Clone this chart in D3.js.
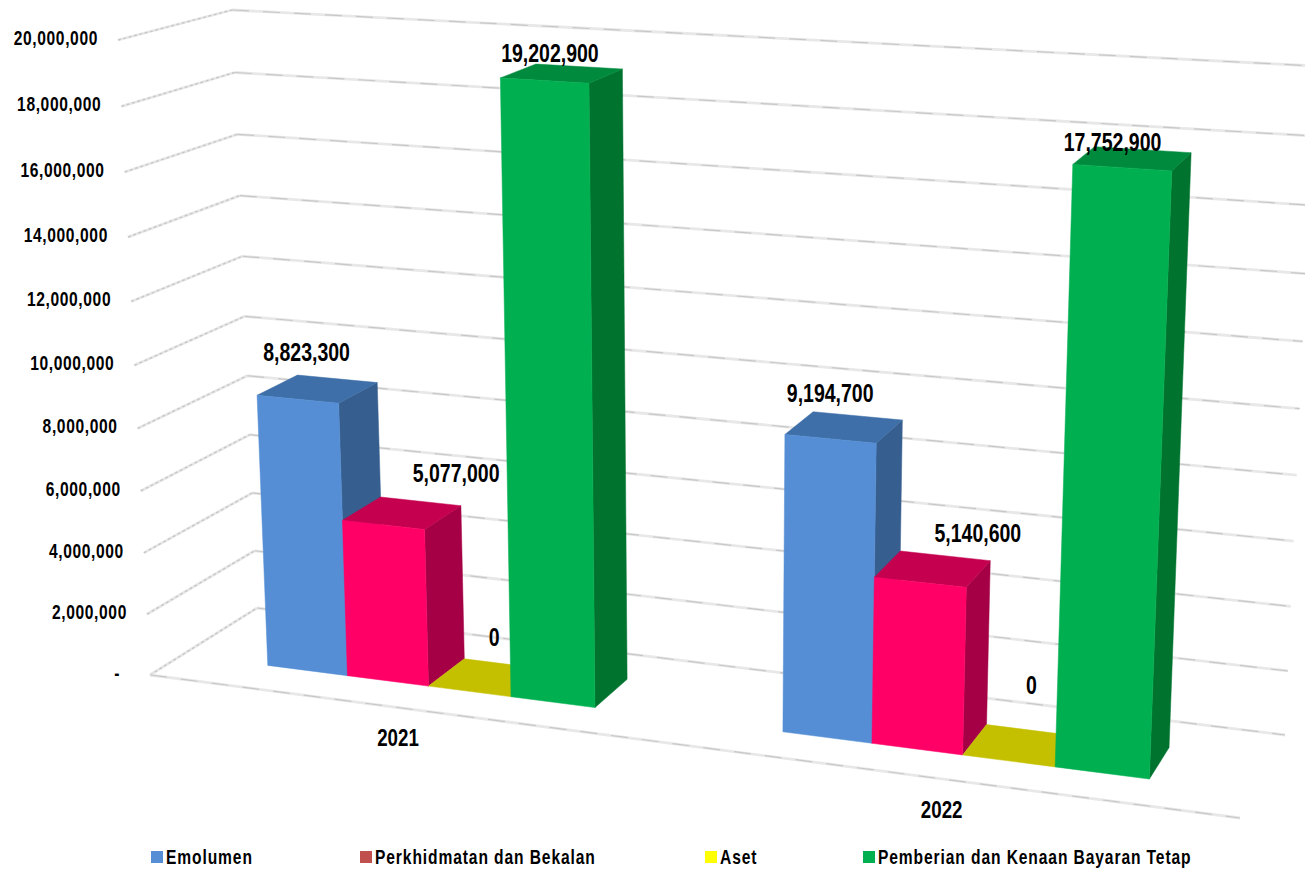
<!DOCTYPE html>
<html>
<head>
<meta charset="utf-8">
<title>Emolumen chart</title>
<script src="https://cdn.jsdelivr.net/npm/d3@7"></script>
<style>
html, body { margin: 0; padding: 0; background: #fff; }
svg { display: block; }
text { font-family: "Liberation Sans", Arial, sans-serif; font-weight: bold; fill: #000; }
</style>
</head>
<body>
<svg id="chart"></svg>
<script>
// ---------------------------- data -----------------------------------
const categories = ['2021', '2022'];
const seriesNames = ['Emolumen', 'Perkhidmatan dan Bekalan', 'Aset', 'Pemberian dan Kenaan Bayaran Tetap'];
const emolumen = [8823300, 9194700];
const perkhidmatan = [5077000, 5140600];
const aset = [0, 0];
const pemberian = [19202900, 17752900];
const tickValues = [0, 2000000, 4000000, 6000000, 8000000, 10000000, 12000000, 14000000, 16000000, 18000000, 20000000];
const tickLabels = ['-', '2,000,000', '4,000,000', '6,000,000', '8,000,000', '10,000,000', '12,000,000', '14,000,000', '16,000,000', '18,000,000', '20,000,000'];

// ---------------------------- layout -----------------------------------
const width = 1305;
const height = 871;
const svg = d3.select('#chart').attr('width', width).attr('height', height);

// corners of the 3D box on screen: front/back, left/right, floor/top
const box = {
  frontLeftFloor: [150, 675], frontRightFloor: [1240, 818],
  backLeftFloor: [257, 608], backRightFloor: [1285, 735],
  frontLeftTop: [118, 40], frontRightTop: [1272, 110],
  backLeftTop: [232, 10], backRightTop: [1315, 66]
};

// colours per series: front, top, side
const colors = [
  { front: '#558ed5', top: '#3f6fa8', side: '#365f8f', legend: '#558ed5' },
  { front: '#ff0066', top: '#c4004f', side: '#a50045', legend: '#c0504d' },
  { front: '#ffff00', top: '#c4c000', side: '#a3a000', legend: '#ffff00' },
  { front: '#00b050', top: '#008a3e', side: '#00732f', legend: '#00b050' }
];

// hand placed data labels in the original, offset from the top centre of the bar
const labelOffsets = [
  [[-11, -37], [54, -40], [7, -40], [-12, -20]],
  [[-14, -34], [45, -36], [11, -60], [-20, -16]]
];

// the reference text is squeezed sideways, no narrow font is installed
const squeeze = 0.78;

function addText(parent, x, y, str, size, spacing, anchor) {
  return parent.append('text')
    .attr('transform', `translate(${x},${y}) scale(${squeeze},1)`)
    .attr('dy', '0.35em')
    .attr('text-anchor', anchor)
    .attr('font-size', size)
    .attr('letter-spacing', spacing)
    .text(str);
}

// perspective makes the far end of each axis a bit longer
function warp(t, k) {
  return t / (k + (1 - k) * t);
}

const mix = d3.interpolateArray;

function project(u, v, w) {
  const front = mix(mix(box.frontLeftFloor, box.frontRightFloor)(u), mix(box.frontLeftTop, box.frontRightTop)(u))(w);
  const back = mix(mix(box.backLeftFloor, box.backRightFloor)(u), mix(box.backLeftTop, box.backRightTop)(u))(w);
  return mix(front, back)(v);
}

const valueScale = d3.scaleLinear().domain([0, 20000000]).range([0, 1]);
const w = d => warp(valueScale(d), 1.05);
const u = s => warp(s, 1.12);

const x0 = d3.scaleBand().domain(categories).range([0, 1]).paddingInner(0.352).paddingOuter(0.176);
const x1 = d3.scaleBand().domain(seriesNames).range([0, x0.bandwidth()]);
const depth = d3.scaleBand().domain(['bars']).range([0, 1]).paddingInner(0.61).paddingOuter(0.31);

const line = d3.line();
const poly = pts => line(pts) + 'Z';

// ---------------------------- gridlines -----------------------------------
const grid = svg.append('g').attr('fill', 'none').attr('stroke-linecap', 'butt');

function gridLine(a, b, dash, thin) {
  grid.append('path').attr('d', line([a, b])).attr('stroke', '#e8e8e8').attr('stroke-width', 2.8);
  grid.append('path').attr('d', line([a, b])).attr('stroke', '#c8c8c8').attr('stroke-width', thin).attr('stroke-dasharray', dash);
}

tickValues.forEach(function(d) {
  gridLine(project(0, 0, w(d)), project(0, 1, w(d)), '3 2.5', 1.4);
  gridLine(project(0, 1, w(d)), project(1, 1, w(d)), '17 14', 1.2);
});
gridLine(project(0, 0, 0), project(1, 0, 0), '17 14', 1.2);

// tick labels
const tickGroup = svg.append('g');
tickValues.forEach(function(d, i) {
  const start = project(0, 0, w(d));
  addText(tickGroup, start[0] - (d === 0 ? 30 : 20), start[1] - 2, tickLabels[i], 20, 0.8, 'end');
});

// ---------------------------- bars -----------------------------------
const allSeries = [emolumen, perkhidmatan, aset, pemberian];
const bars = svg.append('g');
const labels = svg.append('g');

categories.forEach(function(cat, c) {
  allSeries.forEach(function(values, s) {
    const left = x0(cat) + x1(seriesNames[s]);
    const u0 = u(left);
    const u1 = u(left + x1.bandwidth());
    const v0 = depth('bars');
    const v1 = v0 + depth.bandwidth();
    const top = w(values[c]);
    const col = colors[s];

    const fill = (pts, color) => bars.append('path')
      .attr('d', poly(pts))
      .attr('fill', color)
      .attr('stroke', color)
      .attr('stroke-width', 0.5);

    if (values[c] > 0) {
      fill([project(u1, v0, 0), project(u1, v1, 0), project(u1, v1, top), project(u1, v0, top)], col.side);
    }
    fill([project(u0, v0, top), project(u1, v0, top), project(u1, v1, top), project(u0, v1, top)], col.top);
    if (values[c] > 0) {
      fill([project(u0, v0, 0), project(u1, v0, 0), project(u1, v0, top), project(u0, v0, top)], col.front);
    }

    const centre = project((u0 + u1) / 2, (v0 + v1) / 2, top);
    addText(labels, centre[0] + labelOffsets[c][s][0], centre[1] + labelOffsets[c][s][1],
      d3.format(',')(values[c]), 25, 0, 'middle');
  });

  const foot = project(u(x0(cat) + x0.bandwidth() / 2), 0, 0);
  addText(svg, foot[0] - 2, foot[1] + 30, cat, 24, 0, 'middle');
});

// ---------------------------- legend -----------------------------------
const legendX = [151, 360, 705, 863];
const legend = svg.append('g');

seriesNames.forEach(function(name, i) {
  legend.append('rect')
    .attr('x', legendX[i])
    .attr('y', 851)
    .attr('width', 12)
    .attr('height', 12)
    .attr('fill', colors[i].legend);
  addText(legend, legendX[i] + 15, 857, name, 20, 1.15, 'start');
});
</script>
</body>
</html>
